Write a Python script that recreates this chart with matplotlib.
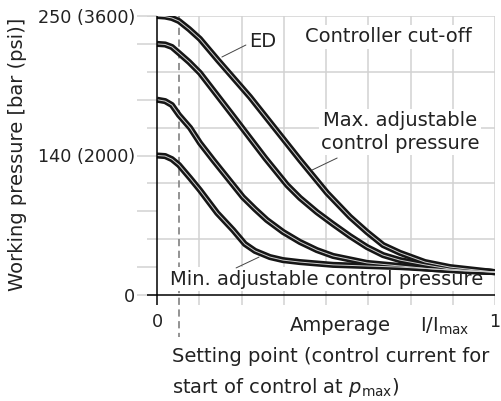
"""Working pressure vs. amperage characteristic (schematic)"""

import matplotlib
matplotlib.use('Agg')
from matplotlib import pyplot as plt

# x: I/Imax, y: relative scale (10 = 250 bar, 5 = 140 bar)
ed_x = [0, 0.024, 0.044, 0.065, 0.095, 0.127, 0.180, 0.275, 0.423, 0.503, 0.571, 0.621, 0.669,
        0.719, 0.793, 0.867, 0.941, 1.0]
ed_y = [10.0, 9.98, 9.93, 9.82, 9.53, 9.18, 8.42, 7.10, 4.84, 3.66, 2.80, 2.26, 1.79,
        1.51, 1.18, 1.00, 0.90, 0.82]

c2_x = [0, 0.024, 0.044, 0.065, 0.095, 0.127, 0.225, 0.320, 0.385, 0.423, 0.473, 0.521, 0.571,
        0.621, 0.669, 0.719, 0.793, 0.867, 0.941, 1.0]
c2_y = [9.0, 8.98, 8.89, 8.67, 8.35, 7.96, 6.42, 4.91, 3.94, 3.48, 2.97, 2.54, 2.11,
        1.72, 1.43, 1.25, 1.08, 0.93, 0.86, 0.82]

c3_x = [0, 0.024, 0.044, 0.065, 0.098, 0.127, 0.166, 0.254, 0.290, 0.325, 0.373, 0.423, 0.473,
        0.521, 0.621, 0.719, 0.817, 0.911, 1.0]
c3_y = [7.0, 6.95, 6.81, 6.45, 5.99, 5.45, 4.84, 3.51, 3.08, 2.69, 2.26, 1.90, 1.61,
        1.40, 1.15, 1.04, 0.93, 0.86, 0.82]

c4_x = [0, 0.024, 0.044, 0.065, 0.098, 0.127, 0.178, 0.225, 0.260, 0.290, 0.334, 0.373, 0.423,
        0.521, 0.719, 0.867, 1.0]
c4_y = [5.0, 4.98, 4.87, 4.66, 4.19, 3.76, 2.94, 2.33, 1.83, 1.58, 1.36, 1.25, 1.18,
        1.08, 1.00, 0.90, 0.82]

curves = [(ed_x, ed_y), (c2_x, c2_y), (c3_x, c3_y), (c4_x, c4_y)]

y_ticks = [0, 5, 10]
y_labels = ['0', '140 (2000)', '250 (3600)']
x_ticks = [0, 1]
x_labels = ['0', '1']
setting_point = 0.065

txt = '#222222'
grid_c = '#d2d2d2'
plt.rcParams['font.family'] = ['DejaVu Sans']
plt.rcParams['mathtext.fontset'] = 'dejavusans'
fs = 14
tick_fs = 12.7

fig = plt.figure(figsize=(5.01, 4.01), dpi=100)
ax = fig.add_axes([147 / 501, 1 - 305 / 401, 348 / 501, 289 / 401])
ax.set_xlim(-10 / 338, 1)
ax.set_ylim(-10 / 27.9, 10)
for s in ax.spines.values():
    s.set_visible(False)

# grid
for gx in [i / 8 for i in range(1, 9)]:
    ax.axvline(gx, color=grid_c, lw=1.1, zorder=0.5)
for gy in [2, 4, 6, 8, 10]:
    ax.axhline(gy, color=grid_c, lw=1.1, zorder=0.5)

# axis lines
ax.axhline(0, color='black', lw=1.1, zorder=4)
ax.axvline(0, color='black', lw=1.1, zorder=4)

ax.set_yticks(y_ticks, y_labels)
ax.set_yticks([1, 3, 7, 9], minor=True)
ax.tick_params(axis='y', which='both', direction='inout', length=15, width=1.1,
               color=grid_c, labelsize=tick_fs, labelcolor=txt, pad=1)
ax.set_xticks(x_ticks, x_labels)
ax.tick_params(axis='x', length=0, labelsize=tick_fs, labelcolor=txt, pad=6)

# setting point
ax.plot([setting_point, setting_point], [10, -1.5], color='#8a8a8a', lw=1.3,
        dashes=(4, 2.5), clip_on=False, zorder=2)

for cx, cy in curves:
    ax.plot(cx, cy, color='#161616', lw=4.4, solid_joinstyle='round', solid_capstyle='butt', zorder=3)
    ax.plot(cx, cy, color='#cfcfcf', lw=0.7, solid_joinstyle='round', zorder=3.1)

box = dict(facecolor='white', edgecolor='none', pad=1.5)
ax.text(0.314, 9.10, 'ED', fontsize=fs, color=txt, ha='center', va='center', bbox=box, zorder=2.5)
ax.text(0.686, 9.25, 'Controller cut-off', fontsize=fs, color=txt, ha='center', va='center',
        bbox=box, zorder=2.5)
ax.text(0.719, 5.84, 'Max. adjustable\ncontrol pressure', fontsize=fs, color=txt, ha='center',
        va='center', linespacing=1.25, bbox=box, zorder=2.5)
ax.text(0.503, 0.57, 'Min. adjustable control pressure', fontsize=fs, color=txt, ha='center',
        va='center', bbox=box, zorder=2.5)

leader = dict(arrowstyle='-', color='#444444', lw=0.7, shrinkA=0, shrinkB=0)
ax.annotate('', xy=(0.192, 8.53), xytext=(0.263, 8.96), arrowprops=leader, zorder=3.5)
ax.annotate('', xy=(0.459, 4.48), xytext=(0.533, 4.91), arrowprops=leader, zorder=3.5)
ax.annotate('', xy=(0.234, 0.97), xytext=(0.302, 1.36), arrowprops=leader, zorder=3.5)

ax.text(0.541, -1.11, 'Amperage', fontsize=fs, color=txt, ha='center', va='center', clip_on=False)
ax.text(0.778, -1.11, r'I/I$_{\mathrm{max}}$', fontsize=fs, color=txt, ha='left', va='center',
        clip_on=False)
ax.text(0.044, -2.22, 'Setting point (control current for', fontsize=fs, color=txt,
        ha='left', va='center', clip_on=False)
ax.text(0.044, -3.30, r'start of control at $p_{\mathrm{max}}$)', fontsize=fs, color=txt,
        ha='left', va='center', clip_on=False)

fig.text(18 / 501, 1 - 154 / 401, 'Working pressure [bar (psi)]', fontsize=fs, color=txt,
         rotation=90, ha='center', va='center')

fig.savefig('out.png', dpi=100)
